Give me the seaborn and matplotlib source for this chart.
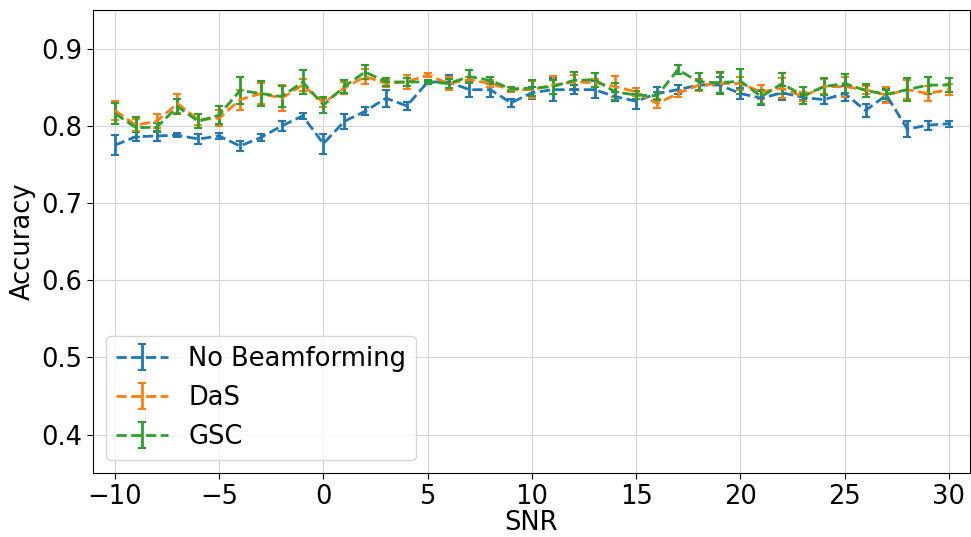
import numpy as np
import matplotlib
matplotlib.use("Agg")
import matplotlib.pyplot as plt
import seaborn as sns

snr = list(range(-10, 31))

nobf_mean = [0.775, 0.786, 0.787, 0.788, 0.783, 0.787, 0.774, 0.785, 0.800, 0.813,
             0.777, 0.806, 0.819, 0.836, 0.826, 0.857, 0.857, 0.847, 0.847, 0.830,
             0.843, 0.847, 0.847, 0.847, 0.838, 0.832, 0.842, 0.847, 0.853, 0.853,
             0.842, 0.836, 0.843, 0.837, 0.834, 0.842, 0.820, 0.840, 0.796, 0.801, 0.803]
nobf_err = [0.013, 0.006, 0.007, 0.003, 0.006, 0.004, 0.007, 0.004, 0.006, 0.004,
            0.013, 0.010, 0.005, 0.011, 0.005, 0.003, 0.009, 0.010, 0.010, 0.005,
            0.008, 0.015, 0.006, 0.011, 0.006, 0.010, 0.009, 0.006, 0.006, 0.010,
            0.007, 0.009, 0.009, 0.004, 0.006, 0.010, 0.008, 0.009, 0.010, 0.006, 0.004]

das_mean = [0.820, 0.801, 0.806, 0.829, 0.808, 0.810, 0.834, 0.842, 0.836, 0.853,
            0.830, 0.849, 0.864, 0.855, 0.857, 0.866, 0.855, 0.860, 0.855, 0.847,
            0.847, 0.853, 0.857, 0.856, 0.851, 0.844, 0.829, 0.842, 0.853, 0.855,
            0.855, 0.844, 0.849, 0.838, 0.851, 0.851, 0.847, 0.840, 0.847, 0.842, 0.847]
das_err = [0.012, 0.008, 0.009, 0.012, 0.007, 0.010, 0.013, 0.014, 0.017, 0.008,
           0.005, 0.008, 0.010, 0.005, 0.009, 0.002, 0.008, 0.004, 0.004, 0.003,
           0.011, 0.012, 0.009, 0.005, 0.014, 0.005, 0.006, 0.004, 0.008, 0.014,
           0.008, 0.009, 0.013, 0.006, 0.010, 0.013, 0.005, 0.010, 0.012, 0.010, 0.007]

gsc_mean = [0.816, 0.798, 0.798, 0.825, 0.806, 0.814, 0.846, 0.842, 0.838, 0.857,
            0.827, 0.851, 0.870, 0.857, 0.857, 0.857, 0.855, 0.864, 0.859, 0.848,
            0.849, 0.851, 0.859, 0.860, 0.844, 0.840, 0.839, 0.873, 0.857, 0.856,
            0.858, 0.838, 0.855, 0.839, 0.851, 0.855, 0.846, 0.841, 0.847, 0.853, 0.853]
gsc_err = [0.014, 0.013, 0.006, 0.010, 0.009, 0.012, 0.018, 0.016, 0.014, 0.015,
           0.010, 0.008, 0.009, 0.005, 0.005, 0.003, 0.006, 0.008, 0.005, 0.003,
           0.010, 0.009, 0.011, 0.009, 0.011, 0.005, 0.005, 0.006, 0.011, 0.014,
           0.016, 0.009, 0.013, 0.011, 0.011, 0.012, 0.008, 0.006, 0.015, 0.011, 0.009]

labels = ["No Beamforming", "DaS", "GSC"]

sns.set_theme(style="ticks")
plt.rcParams['font.family'] = ['DejaVu Sans']
plt.rcParams['text.color'] = 'black'
plt.rcParams['axes.labelcolor'] = 'black'
plt.rcParams['xtick.color'] = 'black'
plt.rcParams['ytick.color'] = 'black'

colors = sns.color_palette("tab10", 3)

fig = plt.figure(figsize=(9.71, 5.37), dpi=100)
ax = fig.add_axes([0.0958, 0.119, 0.903, 0.862])

for mean, err, lab, c in zip([nobf_mean, das_mean, gsc_mean],
                             [nobf_err, das_err, gsc_err], labels, colors):
    ax.errorbar(snr, mean, yerr=err, label=lab, color=c, linestyle="--",
                linewidth=2, elinewidth=2, capsize=3, capthick=1.5)

ax.set_xlim(-11.05, 31.0)
ax.set_ylim(0.35, 0.95)
ax.set_yticks([0.4, 0.5, 0.6, 0.7, 0.8, 0.9])
ax.set_xticks([-10, -5, 0, 5, 10, 15, 20, 25, 30])
ax.grid(True, color="#d5d5d5", linewidth=0.8)
ax.set_axisbelow(True)
for s in ax.spines.values():
    s.set_color("black")
    s.set_linewidth(0.8)
ax.tick_params(axis="both", labelsize=18.5, length=4, width=0.8, color="black")
ax.set_xlabel("SNR", fontsize=18.5, labelpad=0)
ax.set_ylabel("Accuracy", fontsize=18.5, labelpad=4)
ax.legend(loc="lower left", fontsize=18.5, frameon=True, framealpha=0.8,
          handlelength=2.0)

fig.savefig("out.png", dpi=100)
